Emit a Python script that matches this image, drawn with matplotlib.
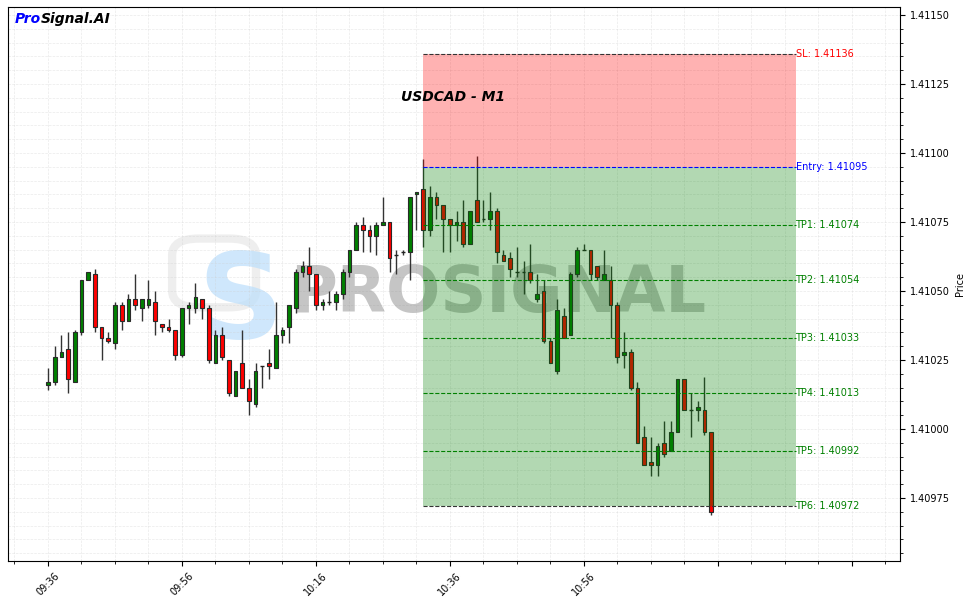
import matplotlib
matplotlib.use("Agg")
import matplotlib.pyplot as plt
from matplotlib.patches import Rectangle, FancyBboxPatch
from matplotlib.ticker import MultipleLocator, FormatStrFormatter, FixedLocator, FixedFormatter

# ================== Data (USDCAD M1) ==================
opens = [1.41016, 1.41017, 1.41026, 1.41029, 1.41017, 1.41035, 1.41054, 1.41056, 1.41037, 1.41033,
         1.41031, 1.41045, 1.41039, 1.41047, 1.41044, 1.41045, 1.41046, 1.41038, 1.41037, 1.41036,
         1.41027, 1.41044, 1.41044, 1.41047, 1.41044, 1.41024, 1.41034, 1.41025, 1.41012, 1.41024,
         1.41015, 1.41009, 1.41023, 1.41024, 1.41022, 1.41034, 1.41037, 1.41044, 1.41057, 1.41059,
         1.41056, 1.41045, 1.41046, 1.41046, 1.41049, 1.41057, 1.41065, 1.41074, 1.41072, 1.41070,
         1.41074, 1.41075, 1.41063, 1.41064, 1.41064, 1.41085, 1.41087, 1.41072, 1.41084, 1.41081,
         1.41076, 1.41074, 1.41075, 1.41067, 1.41083, 1.41076, 1.41076, 1.41079, 1.41063, 1.41062,
         1.41057, 1.41057, 1.41057, 1.41047, 1.41050, 1.41032, 1.41021, 1.41041, 1.41034, 1.41056,
         1.41065, 1.41065, 1.41059, 1.41054, 1.41054, 1.41045, 1.41027, 1.41028, 1.41015, 1.40997,
         1.40988, 1.40987, 1.40995, 1.40992, 1.40999, 1.41018, 1.41007, 1.41007, 1.41007, 1.40999]
highs = [1.41022, 1.41030, 1.41034, 1.41035, 1.41036, 1.41054, 1.41057, 1.41058, 1.41037, 1.41035,
         1.41046, 1.41046, 1.41049, 1.41056, 1.41047, 1.41054, 1.41050, 1.41038, 1.41040, 1.41036,
         1.41044, 1.41046, 1.41053, 1.41047, 1.41045, 1.41036, 1.41037, 1.41025, 1.41021, 1.41036,
         1.41018, 1.41024, 1.41023, 1.41029, 1.41046, 1.41037, 1.41045, 1.41058, 1.41061, 1.41066,
         1.41056, 1.41047, 1.41050, 1.41050, 1.41058, 1.41065, 1.41075, 1.41077, 1.41074, 1.41075,
         1.41084, 1.41075, 1.41065, 1.41065, 1.41084, 1.41086, 1.41098, 1.41088, 1.41086, 1.41081,
         1.41076, 1.41079, 1.41083, 1.41079, 1.41099, 1.41083, 1.41086, 1.41080, 1.41065, 1.41064,
         1.41066, 1.41061, 1.41067, 1.41056, 1.41054, 1.41033, 1.41047, 1.41044, 1.41057, 1.41066,
         1.41067, 1.41065, 1.41059, 1.41065, 1.41059, 1.41046, 1.41035, 1.41029, 1.41017, 1.41001,
         1.40997, 1.40995, 1.41003, 1.41003, 1.41018, 1.41018, 1.41013, 1.41010, 1.41019, 1.40999]
lows = [1.41014, 1.41016, 1.41026, 1.41013, 1.41017, 1.41034, 1.41054, 1.41035, 1.41025, 1.41031,
        1.41029, 1.41036, 1.41039, 1.41043, 1.41039, 1.41044, 1.41034, 1.41035, 1.41035, 1.41025,
        1.41026, 1.41038, 1.41042, 1.41040, 1.41024, 1.41024, 1.41025, 1.41012, 1.41012, 1.41015,
        1.41005, 1.41008, 1.41015, 1.41018, 1.41022, 1.41031, 1.41031, 1.41042, 1.41055, 1.41050,
        1.41043, 1.41043, 1.41045, 1.41043, 1.41047, 1.41055, 1.41065, 1.41064, 1.41064, 1.41063,
        1.41074, 1.41057, 1.41056, 1.41063, 1.41054, 1.41072, 1.41066, 1.41070, 1.41076, 1.41064,
        1.41064, 1.41068, 1.41066, 1.41067, 1.41075, 1.41075, 1.41072, 1.41060, 1.41061, 1.41055,
        1.41055, 1.41049, 1.41053, 1.41046, 1.41031, 1.41024, 1.41020, 1.41033, 1.41034, 1.41055,
        1.41065, 1.41054, 1.41054, 1.41054, 1.41033, 1.41024, 1.41022, 1.41014, 1.40995, 1.40987,
        1.40983, 1.40983, 1.40990, 1.40992, 1.40999, 1.41007, 1.40997, 1.41003, 1.40998, 1.40969]
closes = [1.41017, 1.41026, 1.41028, 1.41018, 1.41035, 1.41054, 1.41057, 1.41037, 1.41033, 1.41032,
          1.41045, 1.41039, 1.41047, 1.41045, 1.41047, 1.41047, 1.41039, 1.41037, 1.41036, 1.41027,
          1.41044, 1.41045, 1.41048, 1.41044, 1.41025, 1.41034, 1.41026, 1.41013, 1.41021, 1.41015,
          1.41010, 1.41021, 1.41023, 1.41023, 1.41034, 1.41036, 1.41045, 1.41057, 1.41059, 1.41056,
          1.41045, 1.41046, 1.41046, 1.41049, 1.41057, 1.41065, 1.41074, 1.41072, 1.41070, 1.41074,
          1.41075, 1.41062, 1.41063, 1.41064, 1.41084, 1.41086, 1.41072, 1.41084, 1.41081, 1.41076,
          1.41074, 1.41075, 1.41067, 1.41079, 1.41075, 1.41076, 1.41079, 1.41064, 1.41061, 1.41058,
          1.41057, 1.41057, 1.41054, 1.41049, 1.41032, 1.41024, 1.41043, 1.41033, 1.41056, 1.41065,
          1.41065, 1.41056, 1.41055, 1.41056, 1.41045, 1.41026, 1.41028, 1.41015, 1.40995, 1.40987,
          1.40987, 1.40994, 1.40991, 1.40999, 1.41018, 1.41007, 1.41007, 1.41008, 1.40999, 1.40970]

symbol = "USDCAD - M1"
entry_idx = 56
entry = 1.41095
sl = 1.41136
tp_levels = [1.41074, 1.41054, 1.41033, 1.41013, 1.40992, 1.40972]
tick_labels = ["09:36", "09:56", "10:16", "10:36", "10:56", "", ""]

# ================== Plot ==================
fig = plt.figure(figsize=(9.69, 6.03), dpi=100)
ax = fig.add_axes([8 / 969, 42 / 603, 892 / 969, 554 / 603])

# watermark logo
ax.add_patch(FancyBboxPatch((0.196, 0.47), 0.07, 0.1, boxstyle="round,pad=0.012,rounding_size=0.03",
                            transform=ax.transAxes, facecolor="none", edgecolor="#e4e4e4",
                            linewidth=6, alpha=0.6, zorder=0))
ax.text(0.212, 0.402, "S", transform=ax.transAxes, fontsize=86, fontweight="bold",
        color="#bfe0fb", alpha=0.75, ha="left", va="baseline", zorder=0.5)
ax.text(0.316, 0.449, "PROSIGNAL", transform=ax.transAxes, fontsize=46, fontweight="bold",
        color="#808080", alpha=0.45, ha="left", va="baseline", zorder=0.6)

width = 0.55
for i in range(len(opens)):
    o, h, l, c = opens[i], highs[i], lows[i], closes[i]
    ax.vlines(i, l, h, color="#333333", linewidth=1.0, zorder=1.5)
    if o == c:
        ax.hlines(o, i - width / 2, i + width / 2, color="#222222", linewidth=1.0, zorder=2)
        continue
    col = "green" if c > o else "red"
    ax.add_patch(Rectangle((i - width / 2, min(o, c)), width, abs(c - o),
                           facecolor=col, edgecolor="#2a2a2a", linewidth=0.8, zorder=2))

# trade zones
zone_end = 111.6
ax.add_patch(Rectangle((entry_idx, entry), zone_end - entry_idx, sl - entry,
                       facecolor="red", alpha=0.3, edgecolor="none", zorder=3))
ax.add_patch(Rectangle((entry_idx, tp_levels[-1]), zone_end - entry_idx, entry - tp_levels[-1],
                       facecolor="green", alpha=0.3, edgecolor="none", zorder=3))

ax.hlines(sl, entry_idx, zone_end, colors="#333333", linestyles="--", linewidth=0.8, zorder=4)
ax.text(zone_end, sl, f"SL: {sl:.5f}", color="red", fontsize=7, va="center", ha="left")
ax.hlines(entry, entry_idx, zone_end, colors="blue", linestyles="--", linewidth=0.8, zorder=4)
ax.text(zone_end, entry, f"Entry: {entry:.5f}", color="blue", fontsize=7, va="center", ha="left")
for n, tp in enumerate(tp_levels):
    lc = "#333333" if n == len(tp_levels) - 1 else "green"
    ax.hlines(tp, entry_idx, zone_end, colors=lc, linestyles="--", linewidth=0.8, zorder=4)
    ax.text(zone_end, tp, f"TP{n + 1}: {tp:.5f}", color="green", fontsize=7, va="center", ha="left")

ax.text(0.499, 0.8375, symbol, transform=ax.transAxes, fontsize=10, fontweight="bold",
        fontstyle="italic", ha="center", va="center")
t1 = ax.text(0.008, 0.966, "Pro", transform=ax.transAxes, fontsize=10, fontweight="bold",
             fontstyle="italic", color="blue", ha="left", va="bottom")
ax.annotate("Signal.AI", xy=(1, 0), xycoords=t1, fontsize=10, fontweight="bold",
            fontstyle="italic", color="black", ha="left", va="bottom")

# axes
ax.set_xlim(-5.97, 127.2)
ax.set_ylim(1.409522, 1.411529)
ax.xaxis.set_major_locator(FixedLocator(list(range(0, 121, 20))))
ax.xaxis.set_major_formatter(FixedFormatter(tick_labels))
ax.xaxis.set_minor_locator(MultipleLocator(5))
ax.yaxis.set_major_locator(MultipleLocator(0.00025))
ax.yaxis.set_minor_locator(MultipleLocator(0.00005))
ax.yaxis.set_major_formatter(FormatStrFormatter("%.5f"))
ax.yaxis.tick_right()
ax.yaxis.set_label_position("right")
ax.set_ylabel("Price", fontsize=7)
ax.tick_params(axis="both", which="major", labelsize=7)
plt.setp(ax.get_xticklabels(), rotation=45)
ax.grid(True, which="both", linestyle="--", linewidth=0.5, color="#cccccc", alpha=0.4)
ax.set_axisbelow(True)

fig.savefig("out.png", dpi=100)
